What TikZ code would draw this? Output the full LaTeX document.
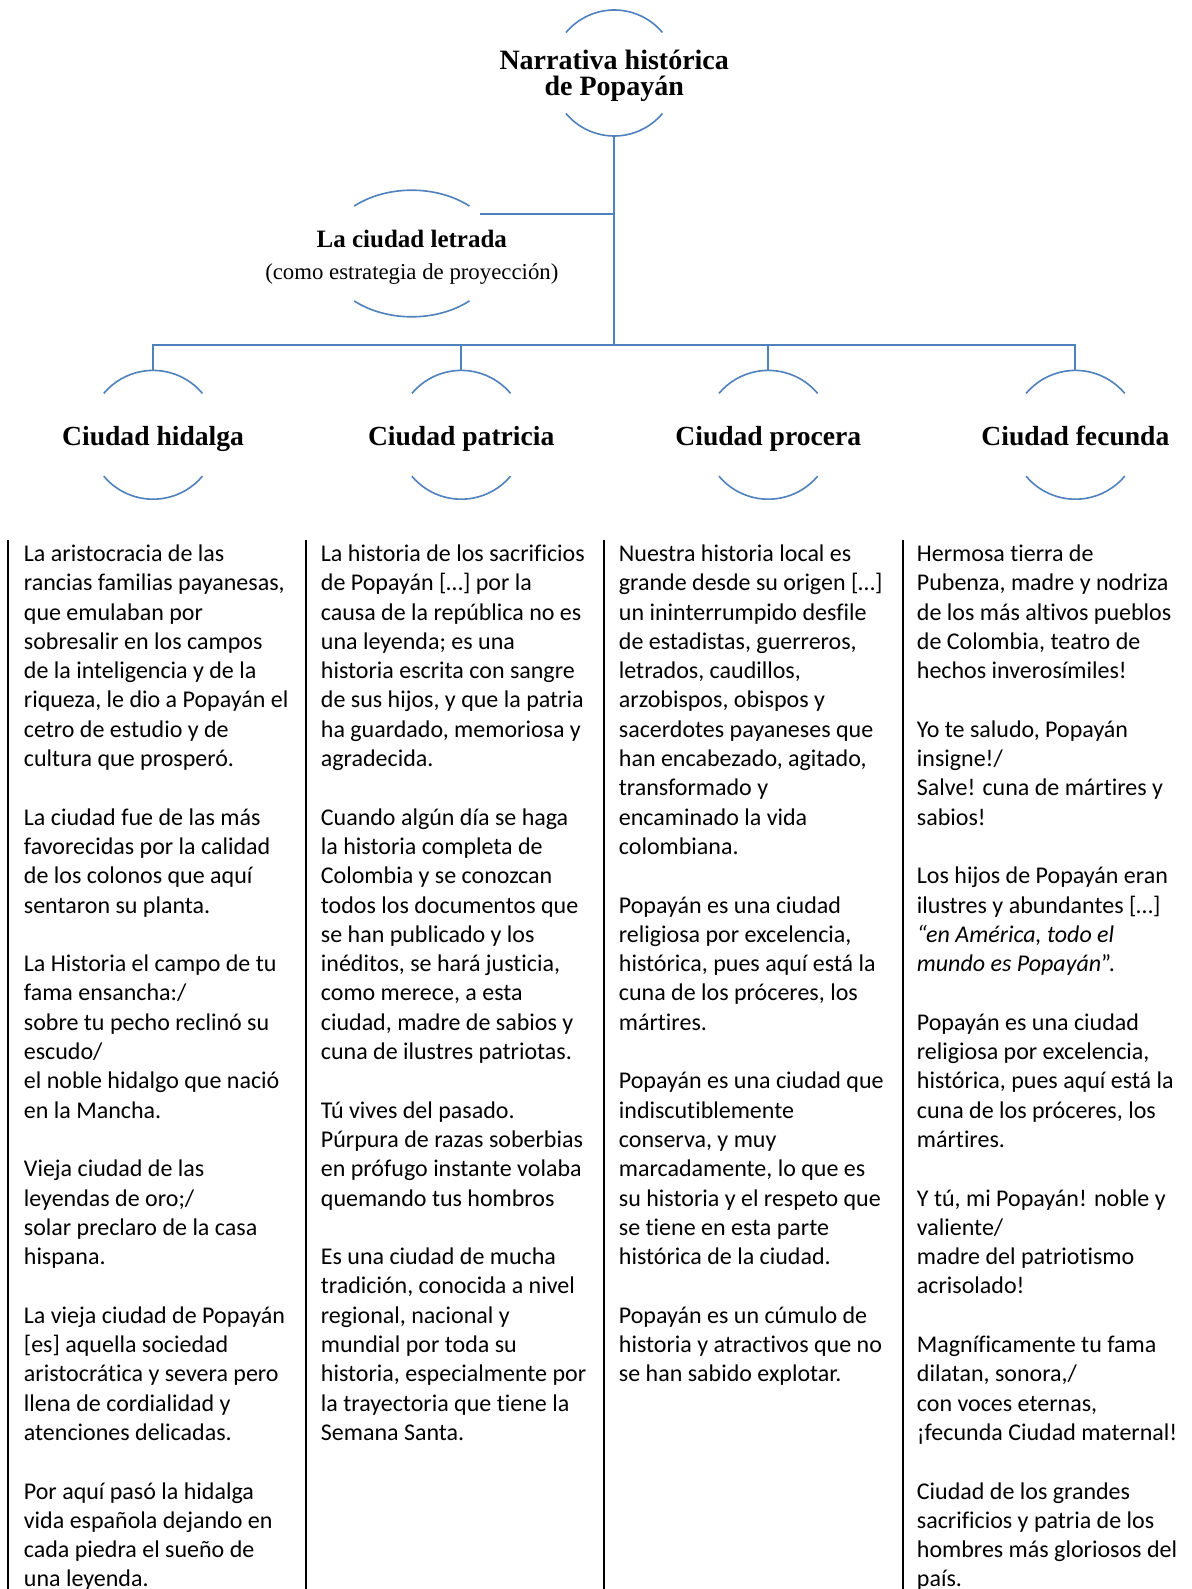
\documentclass[tikz,border=0pt]{standalone}
\usepackage{fontspec}
\setmainfont{Carlito}[Ligatures=NoCommon]
\newfontfamily\headfont{Liberation Serif}[Ligatures=NoCommon]
\usetikzlibrary{shapes.geometric}
\definecolor{smblue}{RGB}{79,129,189}
\begin{document}
\begin{tikzpicture}[x=0.5pt,y=-0.5pt,
  conn/.style={draw=smblue, line width=1pt},
  arcline/.style={draw=smblue, line width=0.8pt},
  ringA/.style={circle, draw=none, inner sep=0pt, outer sep=0pt, minimum size=63pt},
  ringB/.style={circle, draw=none, inner sep=0pt, outer sep=0pt, minimum size=64.4pt},
  ringE/.style={ellipse, draw=none, inner sep=0pt, outer sep=0pt, minimum width=87pt, minimum height=63.3pt},
  toptxt/.style={anchor=base, inner sep=0pt, font=\headfont\bfseries\fontsize{14pt}{14pt}\selectfont},
  lettxt/.style={anchor=base, inner sep=0pt, font=\headfont\bfseries\fontsize{12.5pt}{13pt}\selectfont},
  letsub/.style={anchor=base, inner sep=0pt, font=\headfont\fontsize{11.4pt}{13pt}\selectfont},
  cattxt/.style={anchor=base, inner sep=0pt, font=\headfont\bfseries\fontsize{13.8pt}{14pt}\selectfont},
  coltxt/.style={anchor=north west, inner sep=0pt, align=left, font=\fontsize{12pt}{14.65pt}\selectfont},
  rulecol/.style={draw=black, line width=0.8pt}
]
\useasboundingbox[fill=white] (0,0) rectangle (1191,1589);

% shape containers
\node[ringA] (top) at (614.2,73) {};
\node[ringE] (let) at (411.8,253.5) {};
\node[ringB] (c1) at (153.1,434.8) {};
\node[ringB] (c2) at (461.2,434.8) {};
\node[ringB] (c3) at (768.3,434.8) {};
\node[ringB] (c4) at (1075.4,434.8) {};

% arcs
\draw[arcline] ([shift={(40:31.5pt)}]top.center) arc[start angle=40, end angle=140, radius=31.5pt];
\draw[arcline] ([shift={(220:31.5pt)}]top.center) arc[start angle=220, end angle=320, radius=31.5pt];
\draw[arcline] ([shift={(48.5:43.5pt and 31.65pt)}]let.center) arc[start angle=48.5, end angle=131.5, x radius=43.5pt, y radius=31.65pt];
\draw[arcline] ([shift={(228.5:43.5pt and 31.65pt)}]let.center) arc[start angle=228.5, end angle=311.5, x radius=43.5pt, y radius=31.65pt];
\foreach \n in {c1,c2,c3,c4}{
  \draw[arcline] ([shift={(40:32.2pt)}]\n.center) arc[start angle=40, end angle=140, radius=32.2pt];
  \draw[arcline] ([shift={(220:32.2pt)}]\n.center) arc[start angle=220, end angle=320, radius=32.2pt];
}

% labels
\node[toptxt] (topt1) at (614.2,69.7) {Narrativa histórica};
\node[toptxt] (topt2) at (614.2,95.7) {de Popayán};
\node[lettxt] (lett1) at (411.8,248) {La ciudad letrada};
\node[letsub] (lett2) at (411.8,279.5) {(como estrategia de proyección)};
\node[cattxt] (c1t) at (153.1,445) {Ciudad hidalga};
\node[cattxt] (c2t) at (461.2,445) {Ciudad patricia};
\node[cattxt] (c3t) at (768.3,445) {Ciudad procera};
\node[cattxt] (c4t) at (1075.4,445) {Ciudad fecunda};

% connectors
\coordinate (bus) at (614.2,344.6);
\draw[conn] (top.south) -- (bus);
\draw[conn] (c1.north) |- (bus) -| (c4.north);
\draw[conn] (c2.north) -- (c2.north |- bus);
\draw[conn] (c3.north) -- (c3.north |- bus);
\draw[conn] (let.30) -- (let.30 -| top);

% column rules
\foreach \x in {8,306,604,903}{
  \draw[rulecol] (\x,540) -- (\x,1589);
}

% column texts
\node[coltxt] (col1) at (23.5,537) {\rule{0pt}{12pt}La aristocracia de las\\
rancias familias payanesas,\\
que emulaban por\\
sobresalir en los campos\\
de la inteligencia y de la\\
riqueza, le dio a Popayán el\\
cetro de estudio y de\\
cultura que prosperó.\\[14.65pt]
La ciudad fue de las más\\
favorecidas por la calidad\\
de los colonos que aquí\\
sentaron su planta.\\[14.65pt]
La Historia el campo de tu\\
fama ensancha:/\\
sobre tu pecho reclinó su\\
escudo/\\
el noble hidalgo que nació\\
en la Mancha.\\[14.65pt]
Vieja ciudad de las\\
leyendas de oro;/\\
solar preclaro de la casa\\
hispana.\\[14.65pt]
La vieja ciudad de Popayán\\
{}[es] aquella sociedad\\
aristocrática y severa pero\\
llena de cordialidad y\\
atenciones delicadas.\\[14.65pt]
Por aquí pasó la hidalga\\
vida española dejando en\\
cada piedra el sueño de\\
una leyenda.};

\node[coltxt] (col2) at (320.5,537) {\rule{0pt}{12pt}La historia de los sacrificios\\
de Popayán […] por la\\
causa de la república no es\\
una leyenda; es una\\
historia escrita con sangre\\
de sus hijos, y que la patria\\
ha guardado, memoriosa y\\
agradecida.\\[14.65pt]
Cuando algún día se haga\\
la historia completa de\\
Colombia y se conozcan\\
todos los documentos que\\
se han publicado y los\\
inéditos, se hará justicia,\\
como merece, a esta\\
ciudad, madre de sabios y\\
cuna de ilustres patriotas.\\[14.65pt]
Tú vives del pasado.\\
Púrpura de razas soberbias\\
en prófugo instante volaba\\
quemando tus hombros\\[14.65pt]
Es una ciudad de mucha\\
tradición, conocida a nivel\\
regional, nacional y\\
mundial por toda su\\
historia, especialmente por\\
la trayectoria que tiene la\\
Semana Santa.};

\node[coltxt] (col3) at (618.5,537) {\rule{0pt}{12pt}Nuestra historia local es\\
grande desde su origen […]\\
un ininterrumpido desfile\\
de estadistas, guerreros,\\
letrados, caudillos,\\
arzobispos, obispos y\\
sacerdotes payaneses que\\
han encabezado, agitado,\\
transformado y\\
encaminado la vida\\
colombiana.\\[14.65pt]
Popayán es una ciudad\\
religiosa por excelencia,\\
histórica, pues aquí está la\\
cuna de los próceres, los\\
mártires.\\[14.65pt]
Popayán es una ciudad que\\
indiscutiblemente\\
conserva, y muy\\
marcadamente, lo que es\\
su historia y el respeto que\\
se tiene en esta parte\\
histórica de la ciudad.\\[14.65pt]
Popayán es un cúmulo de\\
historia y atractivos que no\\
se han sabido explotar.};

\node[coltxt] (col4) at (916.5,537) {\rule{0pt}{12pt}Hermosa tierra de\\
Pubenza, madre y nodriza\\
de los más altivos pueblos\\
de Colombia, teatro de\\
hechos inverosímiles!\\[14.65pt]
Yo te saludo, Popayán\\
insigne!/\\
Salve! cuna de mártires y\\
sabios!\\[14.65pt]
Los hijos de Popayán eran\\
ilustres y abundantes […]\\
{\itshape “en América, todo el}\\
{\itshape mundo es Popayán}”.\\[14.65pt]
Popayán es una ciudad\\
religiosa por excelencia,\\
histórica, pues aquí está la\\
cuna de los próceres, los\\
mártires.\\[14.65pt]
Y tú, mi Popayán! noble y\\
valiente/\\
madre del patriotismo\\
acrisolado!\\[14.65pt]
Magníficamente tu fama\\
dilatan, sonora,/\\
con voces eternas,\\
¡fecunda Ciudad maternal!\\[14.65pt]
Ciudad de los grandes\\
sacrificios y patria de los\\
hombres más gloriosos del\\
país.};
\end{tikzpicture}
\end{document}
